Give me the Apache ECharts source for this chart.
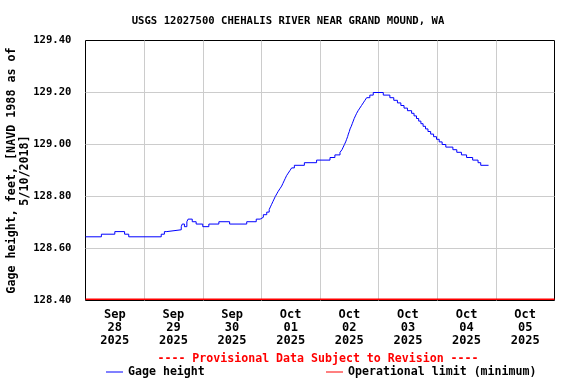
<!DOCTYPE html>
<html><head><meta charset="utf-8">
<script src="https://cdn.jsdelivr.net/npm/echarts@6/dist/echarts.min.js"></script>
<style>html,body{margin:0;padding:0;background:#fff}#c{width:576px;height:384px}</style>
</head><body><div id="c"></div>
<script>
const titleText = 'USGS 12027500 CHEHALIS RIVER NEAR GRAND MOUND, WA';
const yAxisName = 'Gage height, feet, [NAVD 1988 as of\n5/10/2018]';
const provisionalText = '---- Provisional Data Subject to Revision ----';
const dayMonths = ['Sep', 'Sep', 'Sep', 'Oct', 'Oct', 'Oct', 'Oct', 'Oct'];
const dayNumbers = ['28', '29', '30', '01', '02', '03', '04', '05'];
const dayYears = ['2025', '2025', '2025', '2025', '2025', '2025', '2025', '2025'];
const yMin = 128.4, yMax = 129.4, yStep = 0.2;
// hours since 2025-09-28 00:00 at which the gage height changed, and the new value
const hours = [0, 6.5, 12, 16, 17.7, 31, 32.3, 33.3, 39.2, 39.6, 40.5, 41.5, 42, 43.7, 45.3, 48, 50.5, 54.6, 59, 66,
  69.9, 71.5, 72.8, 74.2, 75.2, 75.7, 76.2, 76.7, 77.2, 77.7, 78.3, 78.9, 79.6, 80.3, 80.8, 81.3, 81.8, 82.3, 83.0, 83.7,
  84.4, 85.5, 89.6, 94.6, 100.1, 102.1, 104.2, 105.0, 105.5, 106.0, 106.5, 106.9, 107.3, 107.6, 108.0, 108.3, 108.8, 109.2, 109.6, 110.0,
  110.5, 111.0, 111.6, 112.3, 113.0, 113.7, 114.4, 115.1, 116.4, 117.8, 121.9, 124.6, 126.2, 127.7, 129.1, 130.4, 131.8, 133.5, 134.5, 135.5,
  136.4, 137.3, 138.2, 139.2, 140.2, 141.3, 142.5, 143.7, 144.8, 146.0, 147.5, 150.4, 152.0, 153.9, 156.0, 158.5, 160.7, 161.8, 165.0];
const heights = [128.645, 128.655, 128.665, 128.655, 128.645, 128.655, 128.665, 128.672, 128.684, 128.694, 128.684, 128.703, 128.713, 128.703, 128.694, 128.684, 128.694, 128.703, 128.694, 128.703,
  128.713, 128.72, 128.73, 128.74, 128.75, 128.76, 128.77, 128.78, 128.79, 128.80, 128.81, 128.82, 128.83, 128.84, 128.85, 128.86, 128.87, 128.88, 128.89, 128.90,
  128.91, 128.92, 128.93, 128.94, 128.95, 128.96, 128.97, 128.98, 128.99, 129.00, 129.01, 129.02, 129.03, 129.04, 129.05, 129.06, 129.07, 129.08, 129.09, 129.10,
  129.11, 129.12, 129.13, 129.14, 129.15, 129.16, 129.17, 129.18, 129.19, 129.20, 129.19, 129.18, 129.17, 129.16, 129.15, 129.14, 129.13, 129.12, 129.11, 129.10,
  129.09, 129.08, 129.07, 129.06, 129.05, 129.04, 129.03, 129.02, 129.01, 129.00, 128.99, 128.98, 128.97, 128.96, 128.95, 128.94, 128.93, 128.92, 128.92];
const limitHours = [0, 192];
const limitValues = [128.405, 128.405];

const FONT = 'DejaVu Sans Mono';
const chart = echarts.init(document.getElementById('c'), null, {renderer: 'canvas'});
chart.setOption({
  animation: false,
  backgroundColor: '#fff',
  title: {
    text: titleText, left: 'center', top: 11,
    textStyle: {fontFamily: FONT, fontWeight: 'bold', fontSize: 10.6, color: '#000'}
  },
  graphic: [{
    type: 'text', x: 318, y: 359,
    style: {text: provisionalText, fill: '#ff0000', textAlign: 'center', textVerticalAlign: 'middle',
      font: 'bold 11.6px "DejaVu Sans Mono"'}
  }],
  legend: [
    {data: ['Gage height'], left: 106, top: 366, icon: 'rect', itemWidth: 17, itemHeight: 1,
      selectedMode: false, padding: 0,
      textStyle: {fontFamily: FONT, fontWeight: 'bold', fontSize: 11.6, color: '#000'}},
    {data: ['Operational limit (minimum)'], left: 326, top: 366, icon: 'rect', itemWidth: 17, itemHeight: 1,
      selectedMode: false, padding: 0,
      textStyle: {fontFamily: FONT, fontWeight: 'bold', fontSize: 11.6, color: '#000'}}
  ],
  grid: {left: 85.5, right: 21.5, top: 40.5, bottom: 83.5, outerBoundsMode: 'none', containLabel: false,
    show: true, borderColor: '#000', borderWidth: 1, backgroundColor: 'transparent'},
  xAxis: [
    {type: 'value', min: 0, max: 192, interval: 24, position: 'bottom',
      axisLine: {show: false}, axisTick: {show: false}, axisLabel: {show: false},
      splitLine: {show: true, showMinLine: false, showMaxLine: false, lineStyle: {color: '#cccccc', width: 1}}},
    {type: 'category', position: 'bottom', data: dayNumbers, boundaryGap: true,
      axisLine: {show: false}, axisTick: {show: false}, splitLine: {show: false},
      axisLabel: {margin: 8, fontFamily: FONT, fontWeight: 'bold', fontSize: 12, lineHeight: 13, color: '#000',
        formatter: (v, i) => dayMonths[i] + '\n' + dayNumbers[i] + '\n' + dayYears[i]}}
  ],
  yAxis: {
    type: 'value', min: yMin, max: yMax, interval: yStep,
    name: yAxisName, nameLocation: 'middle', nameGap: 54, nameRotate: 90, nameMoveOverlap: false,
    nameTextStyle: {fontFamily: FONT, fontWeight: 'bold', fontSize: 11.7, lineHeight: 13, color: '#000', align: 'center'},
    axisLine: {show: false}, axisTick: {show: false},
    axisLabel: {margin: 14, fontFamily: FONT, fontWeight: 'bold', fontSize: 10.6, color: '#000',
      formatter: v => v.toFixed(2)},
    splitLine: {show: true, showMinLine: false, showMaxLine: false, lineStyle: {color: '#cccccc', width: 1}}
  },
  series: [
    {name: 'Gage height', type: 'line', xAxisIndex: 0, step: 'end', showSymbol: false, symbol: 'none',
      lineStyle: {color: '#0000ff', width: 1}, itemStyle: {color: '#0000ff'},
      data: hours.map((h, i) => [h, heights[i]])},
    {name: 'Operational limit (minimum)', type: 'line', xAxisIndex: 0, showSymbol: false, symbol: 'none',
      lineStyle: {color: '#ff0000', width: 1.5}, itemStyle: {color: '#ff0000'},
      data: limitHours.map((h, i) => [h, limitValues[i]])}
  ]
});
</script></body></html>
